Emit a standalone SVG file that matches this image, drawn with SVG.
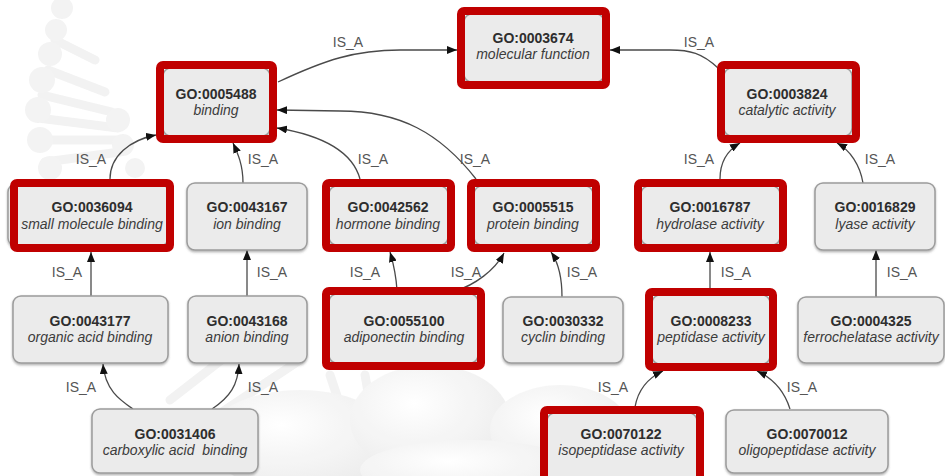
<svg xmlns="http://www.w3.org/2000/svg" width="945" height="476" viewBox="0 0 945 476">
  <defs>
    <style>
      .box { fill: #ebebeb; stroke: #9c9c9c; stroke-width: 1.5; filter: url(#shadow); }
      .hl { fill: none; stroke: #c00000; stroke-width: 8; }
      .id { font-family: "Liberation Sans", Arial, sans-serif; font-size: 14px; font-weight: bold; fill: #2e2e2e; text-anchor: middle; }
      .nm { font-family: "Liberation Sans", Arial, sans-serif; font-size: 14px; font-style: italic; fill: #3c3c3c; text-anchor: middle; }
      .lbl { font-family: "Liberation Sans", Arial, sans-serif; font-size: 14px; fill: #555555; text-anchor: middle; }
      .edge { fill: none; stroke: #4a4a4a; stroke-width: 1.3; marker-end: url(#arrow); }
      .rung { stroke: #f1f1f1; stroke-width: 9; stroke-linecap: round; }
      .ball { fill: #f2f2f2; }
    </style>
    <filter id="shadow" x="-10%" y="-10%" width="120%" height="130%">
      <feDropShadow dx="0" dy="1.5" stdDeviation="1" flood-color="#555555" flood-opacity="0.45"/>
    </filter>
    <radialGradient id="blob" cx="40%" cy="35%" r="65%">
      <stop offset="0" stop-color="#ffffff"/>
      <stop offset="1" stop-color="#ececec"/>
    </radialGradient>
    <marker id="arrow" markerWidth="10" markerHeight="8" refX="10" refY="4" orient="auto" markerUnits="userSpaceOnUse">
      <path d="M0,0 L10,4 L0,8 z" fill="#111111"/>
    </marker>
  </defs>

  <rect width="945" height="476" fill="#ffffff"/>

  <!-- faint helix and molecule artwork in the background -->
  <g id="backdrop" opacity="0.9">
    <line class="rung" x1="55" y1="40" x2="95" y2="60"/>
    <line class="rung" x1="48" y1="70" x2="105" y2="92"/>
    <line class="rung" x1="42" y1="95" x2="112" y2="112"/>
    <line class="rung" x1="38" y1="118" x2="118" y2="128"/>
    <line class="rung" x1="38" y1="140" x2="120" y2="140"/>
    <line class="rung" x1="45" y1="162" x2="120" y2="152"/>
    <circle class="ball" cx="62" cy="8" r="11"/>
    <circle class="ball" cx="56" cy="30" r="11"/>
    <circle class="ball" cx="50" cy="54" r="12"/>
    <circle class="ball" cx="42" cy="80" r="13"/>
    <circle class="ball" cx="38" cy="110" r="13"/>
    <circle class="ball" cx="40" cy="140" r="13"/>
    <circle class="ball" cx="50" cy="168" r="12"/>
    <circle class="ball" cx="118" cy="120" r="12"/>
    <circle class="ball" cx="123" cy="145" r="11"/>
    <circle class="ball" cx="135" cy="168" r="10"/>
    <line class="rung" x1="170" y1="400" x2="260" y2="330"/>
    <line class="rung" x1="210" y1="420" x2="300" y2="360"/>
    <line class="rung" x1="330" y1="375" x2="345" y2="420"/>
    <line class="rung" x1="365" y1="375" x2="372" y2="415"/>
    <ellipse cx="300" cy="440" rx="95" ry="50" fill="url(#blob)"/>
    <ellipse cx="430" cy="420" rx="80" ry="55" fill="url(#blob)"/>
    <ellipse cx="560" cy="430" rx="70" ry="45" fill="url(#blob)"/>
    <ellipse cx="470" cy="470" rx="110" ry="30" fill="url(#blob)"/>
  </g>

  <!-- connectors -->
  <g id="edges">
    <path class="edge" d="M278,82 C325,60 355,50 400,50 L457,50"/>
    <path class="edge" d="M718,68 C702,53 690,50 670,50 L610,50"/>
    <path class="edge" d="M110,179 C110,156 130,140 156,135"/>
    <path class="edge" d="M243,183 C243,165 238,154 233,143"/>
    <path class="edge" d="M360,179 C352,150 320,135 277,128"/>
    <path class="edge" d="M476,179 C440,133 400,111 340,111 L277,110"/>
    <path class="edge" d="M720,179 C720,162 728,150 740,143"/>
    <path class="edge" d="M863,183 C860,165 850,150 837,143"/>
    <path class="edge" d="M91,297 L91,252"/>
    <path class="edge" d="M247,297 L247,250"/>
    <path class="edge" d="M397,290 C396,275 393,262 390,252"/>
    <path class="edge" d="M455,291 C475,285 495,270 504,253"/>
    <path class="edge" d="M562,297 C562,278 558,262 551,252"/>
    <path class="edge" d="M710,290 L710,252"/>
    <path class="edge" d="M876,297 L876,250"/>
    <path class="edge" d="M133,409 C120,400 105,390 103,364"/>
    <path class="edge" d="M212,409 C230,397 238,385 239,364"/>
    <path class="edge" d="M635,407 C638,390 648,378 663,371"/>
    <path class="edge" d="M790,409 C784,390 772,378 757,371"/>
    <g id="edge-labels">
      <text class="lbl" x="348" y="47">IS_A</text>
      <text class="lbl" x="699" y="47">IS_A</text>
      <text class="lbl" x="91" y="164">IS_A</text>
      <text class="lbl" x="263" y="164">IS_A</text>
      <text class="lbl" x="373" y="164">IS_A</text>
      <text class="lbl" x="475" y="164">IS_A</text>
      <text class="lbl" x="699" y="164">IS_A</text>
      <text class="lbl" x="880" y="164">IS_A</text>
      <text class="lbl" x="67" y="277">IS_A</text>
      <text class="lbl" x="272" y="277">IS_A</text>
      <text class="lbl" x="365" y="277">IS_A</text>
      <text class="lbl" x="466" y="277">IS_A</text>
      <text class="lbl" x="582" y="277">IS_A</text>
      <text class="lbl" x="736" y="277">IS_A</text>
      <text class="lbl" x="902" y="277">IS_A</text>
      <text class="lbl" x="81" y="392">IS_A</text>
      <text class="lbl" x="263" y="392">IS_A</text>
      <text class="lbl" x="613" y="392">IS_A</text>
      <text class="lbl" x="802" y="392">IS_A</text>
    </g>
  </g>

  <!-- nodes -->
  <g id="GO0003674">
    <rect class="box" x="464" y="14" width="140" height="68" rx="8"/>
    <rect class="hl" x="461" y="11" width="145" height="74" rx="3"/>
    <text class="id" x="533" y="43">GO:0003674</text>
    <text class="nm" x="533" y="59">molecular function</text>
  </g>
  <g id="GO0005488">
    <rect class="box" x="163" y="68" width="107" height="68" rx="8"/>
    <rect class="hl" x="160" y="65" width="113" height="74" rx="3"/>
    <text class="id" x="216" y="99">GO:0005488</text>
    <text class="nm" x="216" y="115">binding</text>
  </g>
  <g id="GO0003824">
    <rect class="box" x="724" y="68" width="128" height="68" rx="8"/>
    <rect class="hl" x="721" y="65" width="135" height="74" rx="3"/>
    <text class="id" x="787" y="99">GO:0003824</text>
    <text class="nm" x="787" y="115">catalytic activity</text>
  </g>

  <g id="GO0036094">
    <rect class="box" x="8" y="184" width="160" height="62" rx="8"/>
    <rect class="hl" x="14" y="183" width="156" height="65" rx="3"/>
    <text class="id" x="92" y="212">GO:0036094</text>
    <text class="nm" x="92" y="229">small molecule binding</text>
  </g>
  <g id="GO0043167">
    <rect class="box" x="187" y="183" width="120" height="67" rx="8"/>
    <text class="id" x="247" y="212">GO:0043167</text>
    <text class="nm" x="247" y="229">ion binding</text>
  </g>
  <g id="GO0042562">
    <rect class="box" x="329" y="186" width="119" height="59" rx="8"/>
    <rect class="hl" x="326" y="183" width="125" height="65" rx="3"/>
    <text class="id" x="388" y="212">GO:0042562</text>
    <text class="nm" x="388" y="229">hormone binding</text>
  </g>
  <g id="GO0005515">
    <rect class="box" x="474" y="186" width="119" height="59" rx="8"/>
    <rect class="hl" x="471" y="183" width="125" height="65" rx="3"/>
    <text class="id" x="533" y="212">GO:0005515</text>
    <text class="nm" x="533" y="229">protein binding</text>
  </g>
  <g id="GO0016787">
    <rect class="box" x="641" y="186" width="139" height="59" rx="8"/>
    <rect class="hl" x="638" y="183" width="145" height="65" rx="3"/>
    <text class="id" x="710" y="212">GO:0016787</text>
    <text class="nm" x="710" y="229">hydrolase activity</text>
  </g>
  <g id="GO0016829">
    <rect class="box" x="815" y="183" width="120" height="67" rx="8"/>
    <text class="id" x="875" y="212">GO:0016829</text>
    <text class="nm" x="875" y="229">lyase activity</text>
  </g>

  <g id="GO0043177">
    <rect class="box" x="13" y="296" width="155" height="67" rx="8"/>
    <text class="id" x="90" y="326">GO:0043177</text>
    <text class="nm" x="90" y="342">organic acid binding</text>
  </g>
  <g id="GO0043168">
    <rect class="box" x="188" y="296" width="119" height="67" rx="8"/>
    <text class="id" x="247" y="326">GO:0043168</text>
    <text class="nm" x="247" y="342">anion binding</text>
  </g>
  <g id="GO0055100">
    <rect class="box" x="329" y="294" width="149" height="69" rx="8"/>
    <rect class="hl" x="326" y="291" width="155" height="75" rx="3"/>
    <text class="id" x="404" y="326">GO:0055100</text>
    <text class="nm" x="404" y="342">adiponectin binding</text>
  </g>
  <g id="GO0030332">
    <rect class="box" x="503" y="297" width="120" height="66" rx="8"/>
    <text class="id" x="563" y="326">GO:0030332</text>
    <text class="nm" x="563" y="342">cyclin binding</text>
  </g>
  <g id="GO0008233">
    <rect class="box" x="652" y="295" width="118" height="69" rx="8"/>
    <rect class="hl" x="649" y="292" width="124" height="75" rx="3"/>
    <text class="id" x="711" y="326">GO:0008233</text>
    <text class="nm" x="711" y="342">peptidase activity</text>
  </g>
  <g id="GO0004325">
    <rect class="box" x="798" y="297" width="146" height="66" rx="8"/>
    <text class="id" x="871" y="326">GO:0004325</text>
    <text class="nm" x="871" y="342">ferrochelatase activity</text>
  </g>

  <g id="GO0031406">
    <rect class="box" x="92" y="409" width="166" height="64" rx="8"/>
    <text class="id" x="175" y="439">GO:0031406</text>
    <text class="nm" x="175" y="455" xml:space="preserve">carboxylic acid  binding</text>
  </g>
  <g id="GO0070122">
    <rect class="box" x="547" y="413" width="150" height="70" rx="8"/>
    <rect class="hl" x="544" y="410" width="156" height="74" rx="3"/>
    <text class="id" x="621" y="439">GO:0070122</text>
    <text class="nm" x="621" y="455">isopeptidase activity</text>
  </g>
  <g id="GO0070012">
    <rect class="box" x="726" y="410" width="162" height="63" rx="8"/>
    <text class="id" x="807" y="439">GO:0070012</text>
    <text class="nm" x="807" y="455">oligopeptidase activity</text>
  </g>
</svg>
